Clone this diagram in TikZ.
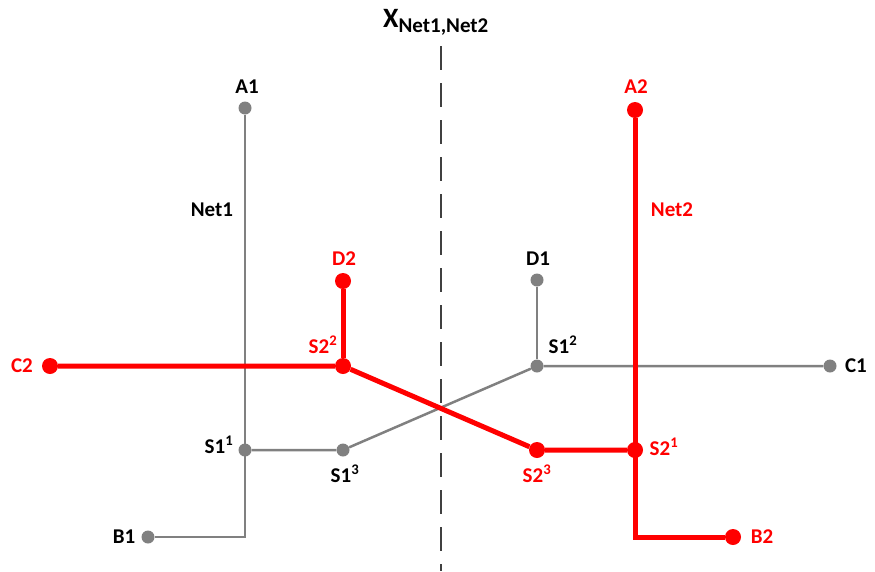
\documentclass[tikz,border=0pt]{standalone}
\usepackage{fontspec}
\setmainfont{Carlito}
\usepackage{tikz}

\definecolor{netgray}{RGB}{128,128,128}
\definecolor{netred}{RGB}{255,0,0}
\definecolor{cutgray}{RGB}{64,64,64}

\begin{document}
\begin{tikzpicture}[x=1pt, y=-1pt, inner sep=0pt,
	net1/.style={draw=netgray, line width=2.5pt},
	net2/.style={draw=netred, line width=5pt},
	pin1/.style={circle, fill=netgray, minimum size=13pt},
	pin2/.style={circle, fill=netred, minimum size=16pt},
	lab/.style={font=\fontsize{21}{24}\selectfont\bfseries},
]% 1pt = 1px
\useasboundingbox (0,0) rectangle (875,571);

% cut line
\draw[cutgray, line width=2pt, dash pattern=on 24pt off 13pt] (441,46) -- (441,571);
\node[lab, font=\fontsize{28}{30}\selectfont\bfseries] (title) at (436,22)
	{X\textsubscript{\fontsize{21}{24}\selectfont Net1,Net2}};

% Net1 (gray)
\node[pin1] (a1) at (245,108) {};
\coordinate (k1) at (245,537);
\node[pin1] (b1) at (148,537) {};
\node[pin1] (s11) at (245,450) {};
\node[pin1] (s13) at (343,450) {};
\node[pin1] (s12) at (537,366) {};
\node[pin1] (c1) at (830,366) {};
\node[pin1] (d1) at (537,280) {};
\draw[net1] (a1) -- (k1) -- (b1);
\draw[net1] (s11) -- (s13) -- (s12) -- (c1);
\draw[net1] (d1) -- (s12);

% Net2 (red)
\node[pin2] (a2) at (635,110) {};
\coordinate (k2) at (635,537);
\node[pin2] (b2) at (733,537) {};
\node[pin2] (s21) at (635,450) {};
\node[pin2] (s23) at (537,450) {};
\node[pin2] (s22) at (343,366) {};
\node[pin2] (c2) at (50,366) {};
\node[pin2] (d2) at (343,281) {};
\draw[net2] (a2) -- (k2) -- (b2);
\draw[net2] (s21) -- (s23) -- (s22) -- (c2);
\draw[net2] (d2) -- (s22);

% labels
\tikzstyle{every node}=[lab, text=black]
\node (la1) at (247,87) {A1};
\node (lnet1) at (212,210) {Net1};
\node (ld1) at (538,259) {D1};
\node (ls12) at (563,345) {S1\textsuperscript{2}};
\node (lc1) at (856,366) {C1};
\node (ls11) at (219,445) {S1\textsuperscript{1}};
\node (ls13) at (345,474) {S1\textsuperscript{3}};
\node (lb1) at (124,537) {B1};

\tikzstyle{every node}=[lab, text=netred]
\node (la2) at (636,87) {A2};
\node (lnet2) at (672,210) {Net2};
\node (ld2) at (344,259) {D2};
\node (ls22) at (323,345) {S2\textsuperscript{2}};
\node (lc2) at (22,366) {C2};
\node (ls21) at (664,447) {S2\textsuperscript{1}};
\node (ls23) at (537,474) {S2\textsuperscript{3}};
\node (lb2) at (762,537) {B2};

\end{tikzpicture}
\end{document}
